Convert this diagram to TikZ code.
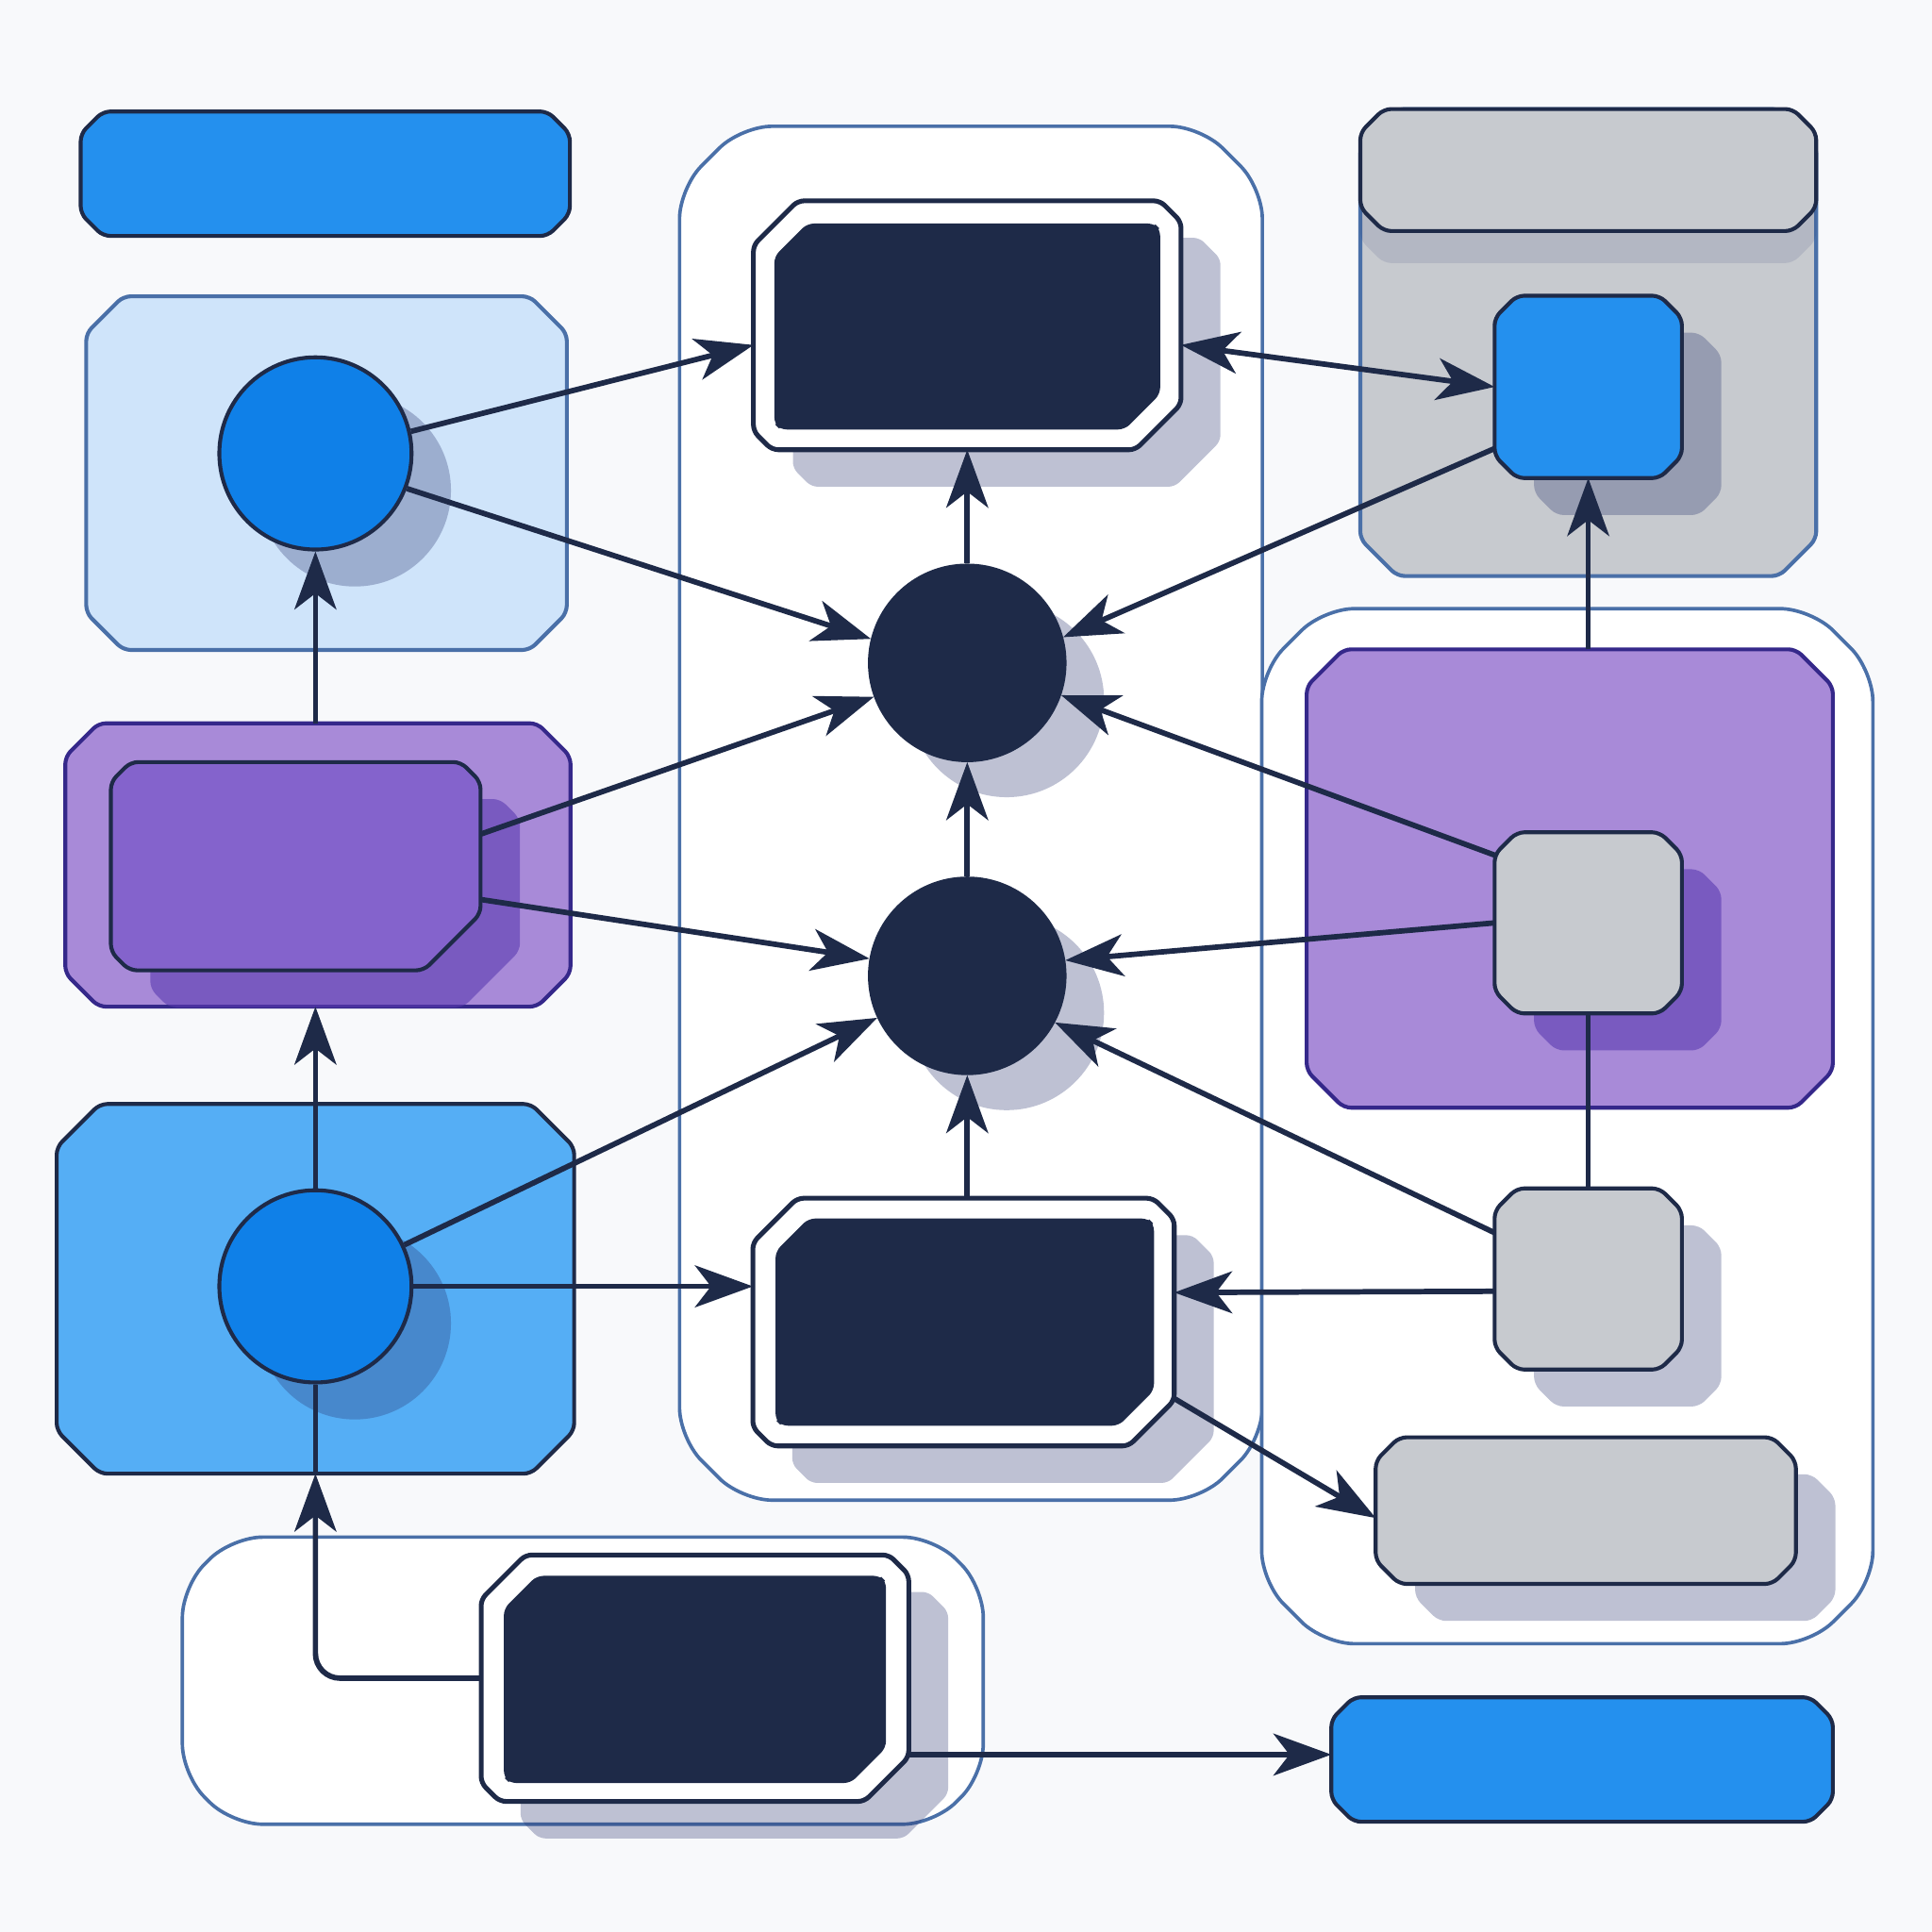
\documentclass[tikz,border=0pt]{standalone}
\usepackage{tikz}
\usetikzlibrary{positioning, arrows.meta, shadows}

\definecolor{ink}{HTML}{1E2A48}
\definecolor{paper}{HTML}{F8F9FB}
\definecolor{barblue}{HTML}{2490EE}
\definecolor{ballblue}{HTML}{0F80E8}
\definecolor{sky}{HTML}{CFE4FA}
\definecolor{midblue}{HTML}{55AEF5}
\definecolor{lilac}{HTML}{A88AD8}
\definecolor{violetfill}{HTML}{8463CC}
\definecolor{violetline}{HTML}{35288A}
\definecolor{greyfill}{HTML}{C7CACF}
\definecolor{framecol}{HTML}{4A70A8}
\definecolor{shadowink}{HTML}{28326E}
\definecolor{violetshadow}{HTML}{5A3AB0}

% outline of a box with cut corners: node, nw, ne, se, sw
\newcommand{\cutpath}[5]{([xshift=#2]#1.north west) -- ([xshift=-#3]#1.north east) -- ([yshift=-#3]#1.north east) -- ([yshift=#4]#1.south east) -- ([xshift=-#4]#1.south east) -- ([xshift=#5]#1.south west) -- ([yshift=#5]#1.south west) -- ([yshift=-#2]#1.north west) -- cycle}
\newcommand{\evencut}[2]{\cutpath{#1}{#2}{#2}{#2}{#2}}

\tikzset{
	>={Stealth[length=4.7mm, width=3.4mm, inset=1.3mm]}, % big notched arrow heads
	wire/.style={draw=ink, line width=1.25pt}, % every connector
	spot/.style={rectangle, inner sep=0pt, outer sep=0pt}, % invisible frame of a box, the outline is drawn after it
	lift/.style={drop shadow={shadow xshift=3.2mm, shadow yshift=-3mm, fill=shadowink, opacity=.3}}, % grey offset shadow
	violetlift/.style={drop shadow={shadow xshift=3.2mm, shadow yshift=-3mm, fill=violetshadow, opacity=.6}}, % shadow on the lilac panels
	headlift/.style={drop shadow={shadow xshift=0mm, shadow yshift=-2.6mm, fill=shadowink, opacity=.12}}, % band under the grey header
	groupline/.style={fill=white, draw=framecol, line width=.8pt, rounded corners=2.5mm}, % light outer groups
	plate/.style={line width=.9pt, rounded corners=.6mm}, % coloured panels and tiles
	rim/.style={fill=white, draw=ink, line width=1.1pt, rounded corners=.5mm}, % white rim of the dark boxes
	core/.style={fill=ink, draw=ink, line width=.6pt, rounded corners=.5mm}, % dark filling
	ball/.style={circle, draw=ink, line width=.9pt, fill=ballblue, minimum size=1.56cm, inner sep=0pt}, % blue sources
	hub/.style={circle, draw=ink, line width=.9pt, fill=ink, minimum size=1.58cm, inner sep=0pt}, % dark junctions
}

\begin{document}
\begin{tikzpicture}
	\fill[paper] (0,0) rectangle (15.68,-15.68);
	\useasboundingbox (0,0) rectangle (15.68,-15.68);

	% groups
	\node (midbox) at (7.88,-6.60) [spot, minimum width=4.73cm, minimum height=11.15cm] {};
	\filldraw[groupline] \evencut{midbox}{5mm};
	\node (rightbox) at (12.72,-9.14) [spot, minimum width=4.96cm, minimum height=8.40cm] {};
	\filldraw[groupline] \evencut{rightbox}{5mm};
	\node (lowbox) at (4.73,-13.64) [spot, minimum width=6.50cm, minimum height=2.33cm] {};
	\filldraw[groupline] \evencut{lowbox}{4mm};

	% left column
	\node (topbar) at (2.64,-1.41) [spot, minimum width=3.97cm, minimum height=1.01cm] {};
	\filldraw[plate, fill=barblue, draw=ink] \evencut{topbar}{1.8mm};
	\node (skypanel) at (2.65,-3.84) [spot, minimum width=3.90cm, minimum height=2.87cm] {};
	\filldraw[plate, fill=sky, draw=framecol] \evencut{skypanel}{3mm};
	\node (srcA) at (2.56,-3.68) [ball, lift] {};
	\node (lilacL) at (2.58,-7.02) [spot, minimum width=4.10cm, minimum height=2.30cm] {};
	\filldraw[plate, fill=lilac, draw=violetline] \evencut{lilacL}{2.7mm};
	\node (violetbox) at (2.40,-7.03) [spot, minimum width=3.00cm, minimum height=1.69cm] {};
	\filldraw[plate, fill=violetfill, draw=ink, violetlift] \cutpath{violetbox}{1.6mm}{1.6mm}{4.6mm}{1.5mm};
	\node (bluepanel) at (2.56,-10.46) [spot, minimum width=4.20cm, minimum height=3.00cm] {};
	\filldraw[plate, fill=midblue, draw=ink] \evencut{bluepanel}{3.5mm};
	\node (srcB) at (2.56,-10.44) [ball, lift] {};

	% bottom left
	\node (sinkA) at (5.64,-13.62) [spot, minimum width=3.47cm, minimum height=2.00cm] {};
	\filldraw[rim, lift] \cutpath{sinkA}{3.6mm}{1.6mm}{3.6mm}{1.5mm};
	\node (sinkAcore) at (5.64,-13.63) [spot, minimum width=3.08cm, minimum height=1.66cm] {};
	\filldraw[core] \cutpath{sinkAcore}{2.6mm}{.4mm}{2.8mm}{.4mm};

	% middle column
	\node (stageT) at (7.85,-2.64) [spot, minimum width=3.47cm, minimum height=2.02cm] {};
	\filldraw[rim, lift] \cutpath{stageT}{3.6mm}{1.7mm}{3.7mm}{1.5mm};
	\node (stageTcore) at (7.85,-2.65) [spot, minimum width=3.11cm, minimum height=1.65cm] {};
	\filldraw[core] \cutpath{stageTcore}{2.6mm}{.4mm}{2.8mm}{.4mm};
	\node (hubA) at (7.85,-5.38) [hub, lift] {};
	\node (hubB) at (7.85,-7.92) [hub, lift] {};
	\node (stageM) at (7.82,-10.73) [spot, minimum width=3.42cm, minimum height=2.01cm] {};
	\filldraw[rim, lift] \cutpath{stageM}{3.6mm}{1.7mm}{3.7mm}{1.5mm};
	\node (stageMcore) at (7.83,-10.73) [spot, minimum width=3.05cm, minimum height=1.66cm] {};
	\filldraw[core] \cutpath{stageMcore}{2.6mm}{.4mm}{2.8mm}{.4mm};

	% right column
	\node (greypanel) at (12.89,-2.78) [spot, minimum width=3.70cm, minimum height=3.79cm] {};
	\filldraw[plate, fill=greyfill, draw=framecol] \evencut{greypanel}{3mm};
	\node (greyhead) at (12.89,-1.38) [spot, minimum width=3.70cm, minimum height=0.99cm] {};
	\filldraw[plate, fill=greyfill, draw=ink, headlift] \evencut{greyhead}{1.9mm};
	\node (target) at (12.89,-3.14) [spot, minimum width=1.52cm, minimum height=1.48cm] {};
	\filldraw[plate, fill=barblue, draw=ink, lift] \evencut{target}{1.8mm};
	\node (lilacR) at (12.74,-7.13) [spot, minimum width=4.27cm, minimum height=3.72cm] {};
	\filldraw[plate, fill=lilac, draw=violetline] \evencut{lilacR}{3mm};
	\node (feedA) at (12.89,-7.49) [spot, minimum width=1.52cm, minimum height=1.47cm] {};
	\filldraw[plate, fill=greyfill, draw=ink, violetlift] \evencut{feedA}{1.8mm};
	\node (feedB) at (12.89,-10.38) [spot, minimum width=1.52cm, minimum height=1.47cm] {};
	\filldraw[plate, fill=greyfill, draw=ink, lift] \evencut{feedB}{1.8mm};
	\node (outbar) at (12.87,-12.26) [spot, minimum width=3.41cm, minimum height=1.19cm] {};
	\filldraw[plate, fill=greyfill, draw=ink, lift] \evencut{outbar}{1.9mm};
	\node (endbar) at (12.84,-14.28) [spot, minimum width=4.07cm, minimum height=1.01cm] {};
	\filldraw[plate, fill=barblue, draw=ink] \evencut{endbar}{1.8mm};

	% connectors
	\draw[wire, ->] (srcA.13) -- ([yshift=-1.6mm]stageT.west);
	\draw[wire, ->] (srcA.-21) -- (hubA.166);
	\draw[wire, ->] ([yshift=-5mm]target.west) -- (hubA.15);
	\draw[wire, <->] ([yshift=-1.6mm]stageT.east) -- (target.west);
	\draw[wire, ->] (hubA.north) -- (stageT.south);
	\draw[wire, ->] ([yshift=2.6mm]violetbox.east) -- (hubA.200);
	\draw[wire, ->] ([yshift=-2.7mm]violetbox.east) -- (hubB.170);
	\draw[wire, ->] (srcA.south |- lilacL.north) -- (srcA.south);
	\draw[wire, ->] (srcB.north) -- (srcB.north |- lilacL.south);
	\draw[wire, ->] (hubB.north) -- (hubA.south);
	\draw[wire, ->] ([yshift=5.5mm]feedA.west) -- (hubA.-19);
	\draw[wire, ->] (feedA.west) -- (hubB.9);
	\draw[wire, ->] ([yshift=3.75mm]feedB.west) -- (hubB.-28);
	\draw[wire, ->] (hubB.south |- stageM.north) -- (hubB.south);
	\draw[wire, ->] (srcB.25) -- (hubB.205);
	\draw[wire, ->] (srcB.east) -- (srcB.east -| stageM.west);
	\draw[wire, ->] ([yshift=-1mm]feedB.west) -- ([yshift=2.4mm]stageM.east);
	\draw[wire, ->] ([yshift=-6.2mm]stageM.east) -- ([yshift=-0.6mm]outbar.west);
	\draw[wire, ->] (target.south |- lilacR.north) -- (target.south);
	\draw[wire] (feedA.south) -- (feedB.north);
	\draw[wire, ->, rounded corners=2mm] (sinkA.west) -| (srcB.south |- bluepanel.south);
	\draw[wire] (srcB.south |- bluepanel.south) -- (srcB.south);
	\draw[wire, ->] ([yshift=-6.2mm]sinkA.east) -- ([yshift=0.4mm]endbar.west);
\end{tikzpicture}
\end{document}
